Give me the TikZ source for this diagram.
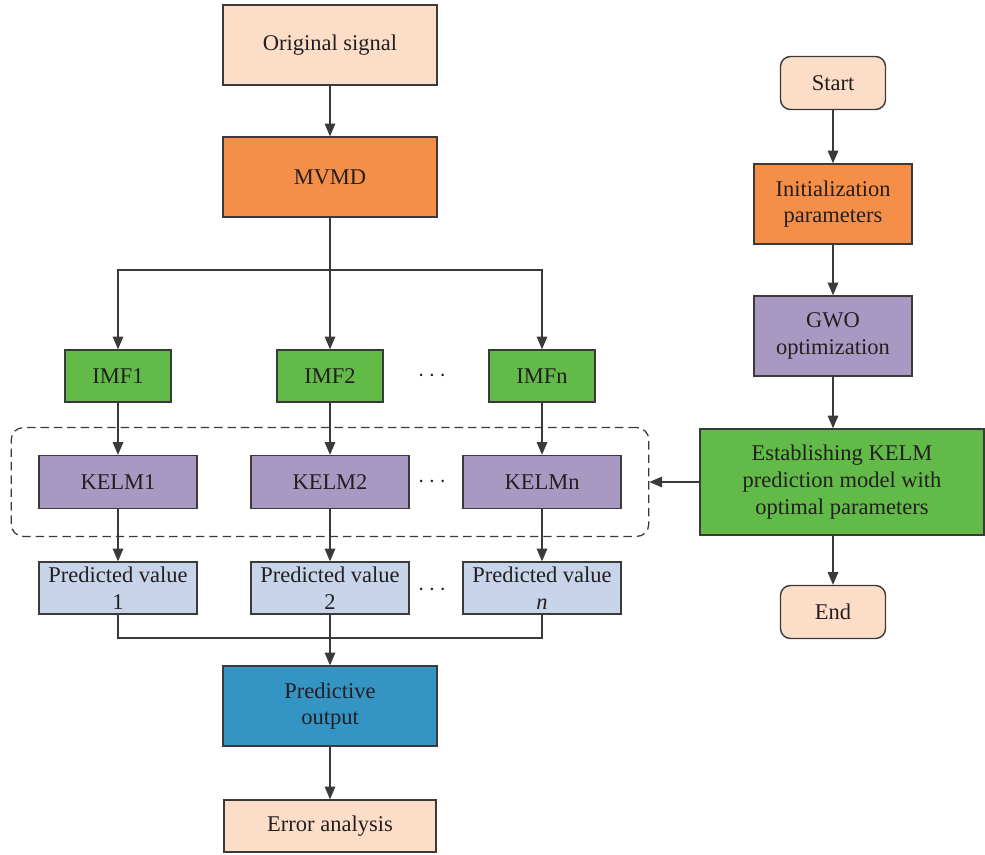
\documentclass[tikz,border=0pt]{standalone}
\usepackage{fontspec}
\setmainfont{Liberation Serif}
\usetikzlibrary{arrows.meta,fit,positioning}
\tikzset{>={Triangle[length=9pt,width=7.5pt]}}
\definecolor{peach}{HTML}{FCDEC8}
\definecolor{orng}{HTML}{F58F47}
\definecolor{grn}{HTML}{62BA48}
\definecolor{purp}{HTML}{A899C3}
\definecolor{lblue}{HTML}{C8D4EA}
\definecolor{dblue}{HTML}{3494C4}
\definecolor{penColor}{HTML}{3A3A3A}
\definecolor{txtColor}{HTML}{231F20}

\begin{document}
\begin{tikzpicture}[x=0.025cm,y=-0.025cm,
    box/.style={draw=penColor,line width=1pt,align=center,inner sep=0pt,
      text=txtColor,font=\fontsize{16}{19}\selectfont},
    bigbox/.style={box,minimum width=5.35cm,minimum height=2cm},
    imfbox/.style={box,fill=grn,minimum width=2.65cm,minimum height=1.3cm},
    kelmbox/.style={box,fill=purp,minimum width=3.95cm,minimum height=1.325cm},
    predbox/.style={box,fill=lblue,minimum width=3.95cm,minimum height=1.3cm},
    stepbox/.style={box,minimum width=3.95cm,minimum height=2cm},
    termbox/.style={box,fill=peach,rounded corners=0.25cm,minimum width=2.625cm,minimum height=1.325cm},
    link/.style={->,draw=penColor,line width=0.9pt},
    dotsnode/.style={text=txtColor,font=\fontsize{16}{19}\selectfont}]
  \useasboundingbox (0,0) rectangle (985,854);

  % left column
  \node[bigbox,fill=peach] (signal) at (330,45) {Original signal};
  \node[bigbox,fill=orng] (mvmd) at (330,177) {MVMD};

  \node[imfbox] (imf1) at (118,376) {IMF1};
  \node[imfbox] (imf2) at (330,376) {IMF2};
  \node[imfbox] (imfn) at (542,376) {IMFn};
  \node[dotsnode] (dots1) at (432,376) {$\cdots$};

  \node[kelmbox] (kelm1) at (118,482) {KELM1};
  \node[kelmbox] (kelm2) at (330,482) {KELM2};
  \node[kelmbox] (kelmn) at (542,482) {KELMn};
  \node[dotsnode] (dots2) at (432,482) {$\cdots$};

  \node[draw=penColor,dash pattern=on 6pt off 3.5pt,line width=0.9pt,rounded corners=0.3cm,
    inner xsep=0.675cm,inner ysep=0.68cm,fit=(kelm1)(kelmn)] (group) {};

  \node[predbox] (pred1) at (118,588) {Predicted value\\1};
  \node[predbox] (pred2) at (330,588) {Predicted value\\2};
  \node[predbox] (predn) at (542,588) {Predicted value\\\textit{n}};
  \node[dotsnode] (dots3) at (432,590) {$\cdots$};

  \node[bigbox,fill=dblue] (output) at (330,706) {Predictive\\output};
  \node[box,fill=peach,minimum width=5.3cm,minimum height=1.3cm] (error) at (330,826) {Error analysis};

  \coordinate (split) at (330,270);
  \coordinate (merge) at (330,638);

  % right column
  \node[termbox] (start) at (833,83) {Start};
  \node[stepbox,fill=orng] (init) at (833,204) {Initialization\\parameters};
  \node[stepbox,fill=purp] (gwo) at (833,336) {GWO\\optimization};
  \node[box,fill=grn,minimum width=7.1cm,minimum height=2.65cm] (est) at (842,482)
    {Establishing KELM\\prediction model with\\optimal parameters};
  \node[termbox] (end) at (833,612) {End};

  % connectors
  \draw[link] (signal) -- (mvmd);
  \draw[link] (mvmd) -- (imf2);
  \draw[link] (split) -| (imf1);
  \draw[link] (split) -| (imfn);
  \draw[link] (imf1) -- (kelm1);
  \draw[link] (imf2) -- (kelm2);
  \draw[link] (imfn) -- (kelmn);
  \draw[link] (kelm1) -- (pred1);
  \draw[link] (kelm2) -- (pred2);
  \draw[link] (kelmn) -- (predn);
  \draw[draw=penColor,line width=0.9pt] (pred1) |- (merge) -| (predn);
  \draw[link] (pred2) -- (output);
  \draw[link] (output) -- (error);

  \draw[link] (start) -- (init);
  \draw[link] (init) -- (gwo);
  \draw[link] (gwo.south) -- (gwo.south |- est.north);
  \draw[link] (est.south -| end) -- (end);
  \draw[link] (est) -- (group);
\end{tikzpicture}
\end{document}
